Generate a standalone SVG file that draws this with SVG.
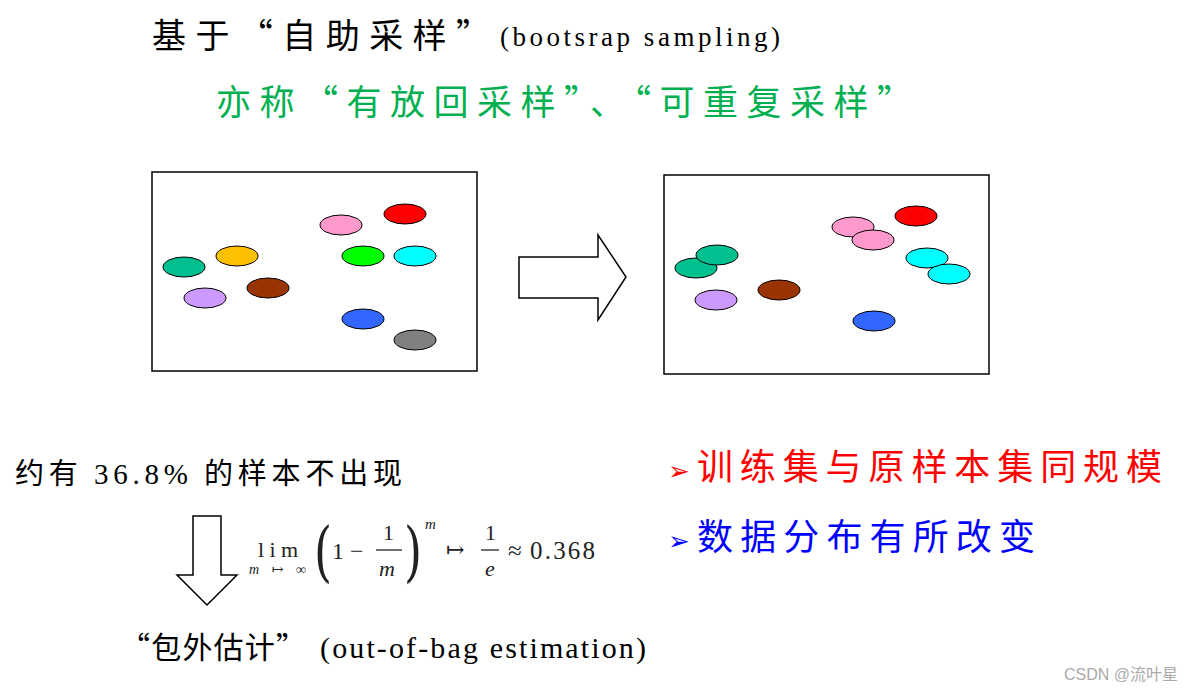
<svg xmlns="http://www.w3.org/2000/svg" width="1183" height="692" viewBox="0 0 1183 692">
<style>
.box{fill:#fff;stroke:#000;stroke-width:1.5}
.arr{fill:#fff;stroke:#000;stroke-width:1.5}
ellipse{stroke:#000;stroke-width:1}
.cjk{font-family:"Noto Sans CJK SC","Liberation Serif",serif}
.ser{font-family:"Liberation Serif",serif}
.m{font-family:"Liberation Serif","DejaVu Serif",serif;fill:#222}
</style>
<rect width="1183" height="692" fill="#fff"/>
<text class="cjk" x="152" y="48" font-size="34" textLength="338" lengthAdjust="spacing">基于“自助采样”</text>
<text class="ser" x="500" y="46" font-size="27" textLength="280">(bootsrap sampling)</text>
<text class="cjk" x="216" y="115" font-size="35" fill="#00b050" textLength="696" lengthAdjust="spacing">亦称“有放回采样”、“可重复采样”</text>
<g id="box-left"><rect class="box" x="152" y="172" width="325" height="199"/>
<ellipse cx="184" cy="267" rx="21" ry="10" fill="#00c090"/>
<ellipse cx="237" cy="256" rx="21" ry="10" fill="#ffc000"/>
<ellipse cx="205" cy="298" rx="21" ry="10" fill="#cc99ff"/>
<ellipse cx="268" cy="288" rx="21" ry="10" fill="#993300"/>
<ellipse cx="341" cy="225" rx="21" ry="10" fill="#ff99cc"/>
<ellipse cx="405" cy="214" rx="21" ry="10" fill="#ff0000"/>
<ellipse cx="363" cy="256" rx="21" ry="10" fill="#00ff00"/>
<ellipse cx="415" cy="256" rx="21" ry="10" fill="#00ffff"/>
<ellipse cx="363" cy="319" rx="21" ry="10" fill="#3366ff"/>
<ellipse cx="415" cy="340" rx="21" ry="10" fill="#808080"/></g>
<g id="box-right"><rect class="box" x="664" y="175" width="325" height="199"/>
<ellipse cx="696" cy="268" rx="21" ry="10" fill="#00c090"/>
<ellipse cx="717" cy="255" rx="21" ry="10" fill="#00c090"/>
<ellipse cx="716" cy="300" rx="21" ry="10" fill="#cc99ff"/>
<ellipse cx="779" cy="290" rx="21" ry="10" fill="#993300"/>
<ellipse cx="853" cy="227" rx="21" ry="10" fill="#ff99cc"/>
<ellipse cx="873" cy="240" rx="21" ry="10" fill="#ff99cc"/>
<ellipse cx="916" cy="216" rx="21" ry="10" fill="#ff0000"/>
<ellipse cx="927" cy="258" rx="21" ry="10" fill="#00ffff"/>
<ellipse cx="949" cy="274" rx="21" ry="10" fill="#00ffff"/>
<ellipse cx="874" cy="321" rx="21" ry="10" fill="#3366ff"/></g>
<g id="connectors">
<path class="arr" d="M519 257 H598 V235 L626 277 L598 320 V298 H519 Z"/>
<path class="arr" d="M193 516 H221 V575 H237 L207 605 L177 575 H193 Z"/>
</g>
<text class="cjk" x="15" y="484" font-size="29" textLength="387" lengthAdjust="spacing">约有 <tspan class="ser">36.8%</tspan> 的样本不出现</text>
<g id="formula" class="m">
<text x="258" y="557" font-size="22" textLength="40">lim</text>
<text x="249" y="574" font-size="14" font-style="italic" textLength="57">m↦∞</text>
<text x="314" y="574" font-size="66" font-family="DejaVu Serif" transform="scale(0.7,1)" transform-origin="314 574">(</text>
<text x="332" y="559" font-size="24">1</text>
<text x="350" y="559" font-size="24">−</text>
<text x="383" y="540" font-size="22">1</text>
<line x1="376" y1="550" x2="402" y2="550" stroke="#222" stroke-width="1.3"/>
<text x="379" y="576" font-size="22" font-style="italic">m</text>
<text x="404" y="574" font-size="66" font-family="DejaVu Serif" transform="scale(0.7,1)" transform-origin="404 574">)</text>
<text x="425" y="529" font-size="15" font-style="italic">m</text>
<text x="446" y="557" font-size="22">↦</text>
<text x="485" y="540" font-size="22">1</text>
<line x1="481" y1="550" x2="499" y2="550" stroke="#222" stroke-width="1.3"/>
<text x="485" y="576" font-size="22" font-style="italic">e</text>
<text x="508" y="559" font-size="25">≈</text>
<text x="530" y="559" font-size="25" textLength="65">0.368</text>
</g>
<text class="cjk" x="120" y="658" font-size="30" textLength="186" lengthAdjust="spacing">“包外估计”</text>
<text class="ser" x="320" y="658" font-size="30" textLength="326">(out-of-bag estimation)</text>
<text class="cjk" x="668" y="480" font-size="36" fill="#ff0000" textLength="494" lengthAdjust="spacing"><tspan font-size="26">➢</tspan>训练集与原样本集同规模</text>
<text class="cjk" x="668" y="550" font-size="36" fill="#0000ff" textLength="367" lengthAdjust="spacing"><tspan font-size="26">➢</tspan>数据分布有所改变</text>
<text x="1178" y="680" text-anchor="end" font-size="16" fill="#aaa" font-family="Liberation Sans,Noto Sans CJK SC,sans-serif">CSDN @流叶星</text>
</svg>
